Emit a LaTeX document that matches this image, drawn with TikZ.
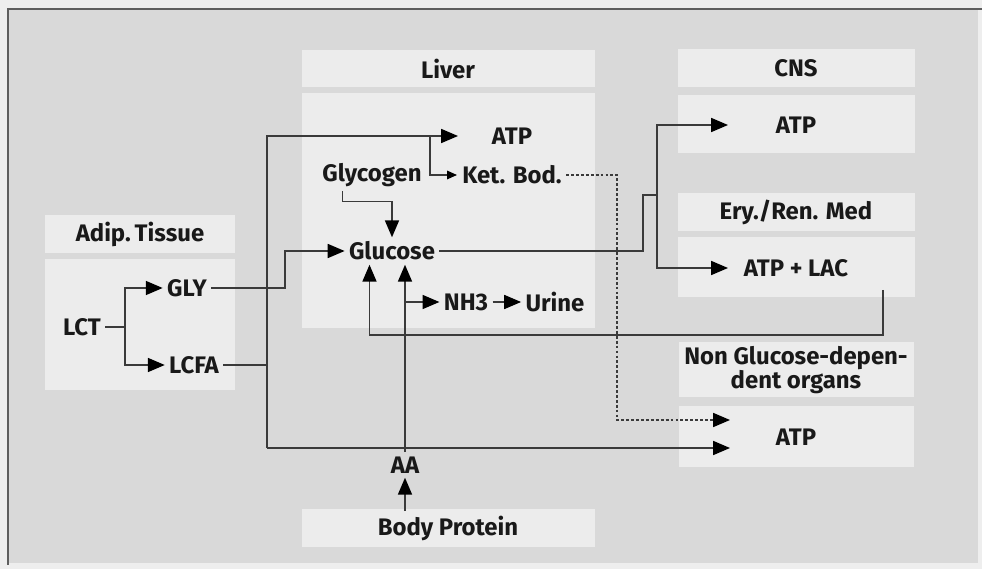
\documentclass[tikz,border=0pt]{standalone}
\usepackage{fontspec}
\setmainfont{Fira Sans}
\usetikzlibrary{arrows.meta}

\definecolor{outergray}{HTML}{EEEEEE}
\definecolor{fieldgray}{HTML}{D9D9D9}
\definecolor{boxgray}{HTML}{ECECEC}
\definecolor{framegray}{HTML}{5E5E5E}
\definecolor{linegray}{HTML}{3A3A3A}

\tikzset{
  lbl/.style={font=\fontsize{17}{19}\selectfont\bfseries, text=black!90, inner sep=3pt},
  link/.style={draw=linegray, line width=1pt},
  tip/.style={-{Triangle[length=12pt,width=10pt,color=black]}},
  smalltip/.style={-{Triangle[length=7pt,width=6pt,color=black]}},
}

\begin{document}
\begin{tikzpicture}[x=0.025cm, y=-0.025cm]
            \useasboundingbox (0,0) rectangle (982,569);

            % Frame
            \fill[outergray] (0,0) rectangle (982,569);
            \fill[fieldgray] (8,9) rectangle (978,563);
            \draw[framegray, line width=1.6pt] (8,565) -- (8,9) -- (982,9);

            % Boxes
            \fill[boxgray] (45,215) rectangle (235,253);
            \fill[boxgray] (45,259) rectangle (235,390);
            \fill[boxgray] (302,50) rectangle (595,87);
            \fill[boxgray] (302,93) rectangle (595,328);
            \fill[boxgray] (678,49) rectangle (915,87);
            \fill[boxgray] (678,95) rectangle (915,153);
            \fill[boxgray] (678,193) rectangle (915,231);
            \fill[boxgray] (678,237) rectangle (915,297);
            \fill[boxgray] (679,342) rectangle (914,397);
            \fill[boxgray] (679,406) rectangle (914,467);
            \fill[boxgray] (302,509) rectangle (595,547);

            % Headers
            \node[lbl] (adiphd) at (140,234) {Adip.\,Tissue};
            \node[lbl] (liverhd) at (448,69) {Liver};
            \node[lbl] (cnshd) at (796,68) {CNS};
            \node[lbl] (eryhd) at (796,212) {Ery./Ren. Med};
            \node[lbl, align=center] (nghd) at (796,370) {Non Glucose-depen-\\[-2pt]dent organs};
            \node[lbl] (protein) at (448,528) {Body Protein};

            % Adipose tissue
            \node[lbl] (lct) at (82,327) {LCT};
            \node[lbl] (gly) at (187,288) {GLY};
            \node[lbl] (lcfa) at (194,365) {LCFA};

            % Liver
            \node[lbl] (livatp) at (512,136) {ATP};
            \node[lbl] (glycogen) at (372,175) {Glycogen};
            \node[lbl] (ketbod) at (512,175) {Ket. Bod.};
            \node[lbl] (glucose) at (392,251) {Glucose};
            \node[lbl] (nh3) at (466,302) {NH3};
            \node[lbl] (urine) at (555,302) {Urine};

            % Organs
            \node[lbl] (cnsatp) at (796,125) {ATP};
            \node[lbl] (erylac) at (796,268) {ATP + LAC};
            \node[lbl] (ngatp) at (796,437) {ATP};
            \node[lbl] (aa) at (405,465) {AA};

            % Junctions and arrow ends
            \coordinate (fork) at (125,327);
            \coordinate (trunk) at (267,365);
            \coordinate (trunkbot) at (267,448);
            \coordinate (livin) at (458,136);
            \coordinate (ketin) at (457,175);
            \coordinate (ketfork) at (430,136);
            \coordinate (cnsin) at (728,125);
            \coordinate (lacin) at (728,268);
            \coordinate (split) at (657,195);
            \coordinate (lacout) at (883,290);
            \coordinate (dashx) at (617,420);
            \coordinate (ngin1) at (730,420);
            \coordinate (ngin2) at (730,448);
            \coordinate (aafork) at (404,302);

            % LCT splits into GLY and LCFA
            \draw[link] (lct.east) -- (fork);
            \draw[link, tip] (fork) |- (gly.west);
            \draw[link, tip] (fork) |- (lcfa.west);

            % GLY to glucose
            \draw[link, tip] (gly.east) -- (285,288) |- (glucose.west);

            % LCFA to ATP, ketone bodies and other organs
            \draw[link] (lcfa.east) -- (trunk);
            \draw[link, tip] (trunkbot) |- (livin);
            \draw[link, smalltip] (ketfork) |- (ketin);
            \draw[link, tip] (trunkbot) -- (ngin2);

            % Glycogen to glucose
            \draw[link, tip] ([xshift=-21pt]glycogen.south) -- ++(0,10) -| (glucose.north);

            % Glucose to CNS and erythrocytes
            \draw[link] (glucose.east) -- (643,251) |- (split);
            \draw[link, tip] (split) |- (cnsin);
            \draw[link, tip] (split) |- (lacin);

            % Lactate back to glucose
            \draw[link, tip] (lacout) -- (883,335) -| ([xshift=-16pt]glucose.south);

            % Body protein to AA, glucose and NH3
            \draw[link, tip] (protein.north -| aa) -- (aa.south);
            \draw[link, tip] (aa.north) -- (aa.north |- glucose.south);
            \draw[link, tip] (aafork) -- (nh3.west);
            \draw[link, tip] (nh3.east) -- (urine.west);

            % Ketone bodies to non glucose-dependent organs
            \draw[link, dash pattern=on 2pt off 1.5pt, tip] (ketbod.east) -| (dashx) -- (ngin1);
        \end{tikzpicture}
\end{document}
